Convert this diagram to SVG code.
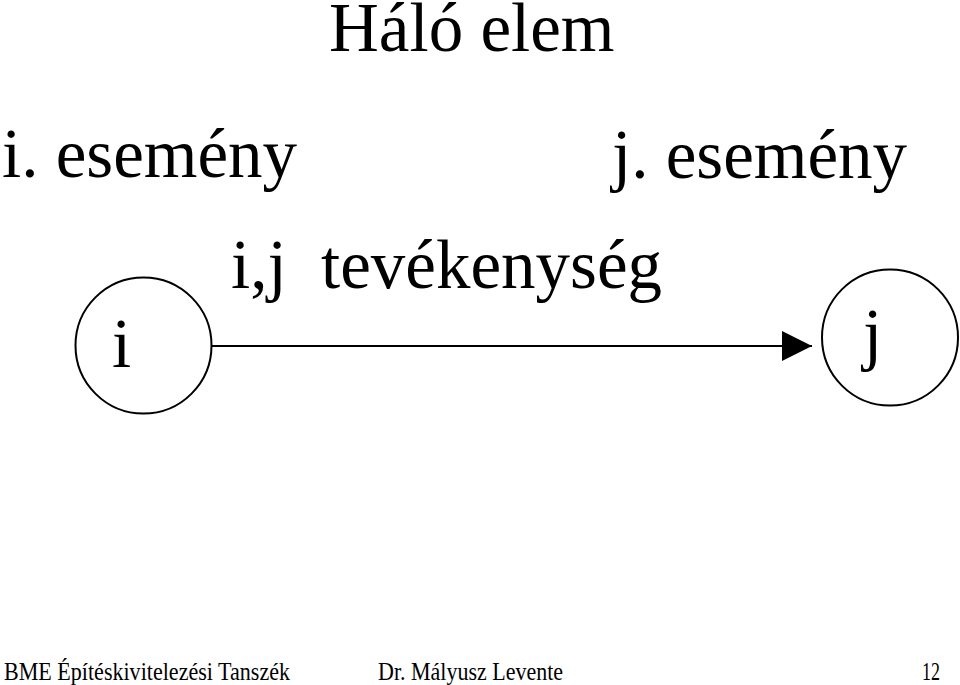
<svg xmlns="http://www.w3.org/2000/svg" width="960" height="685" viewBox="0 0 960 685">
<style>
text { font-family: "Liberation Serif", "Times New Roman", serif; fill: #000; }
.big { font-size: 69px; }
.title { font-size: 69px; }
.foot { font-size: 26px; }
.node circle { fill: #fff; stroke: #000; stroke-width: 2; }
.edge { stroke: #000; stroke-width: 2; fill: none; }
</style>
<defs>
<marker id="arrow" markerUnits="userSpaceOnUse" viewBox="0 0 30 30" markerWidth="30" markerHeight="30" refX="30" refY="15" orient="auto">
<path d="M0,0 L30,15 L0,30 Z" fill="#000"/>
</marker>
</defs>
<rect width="960" height="685" fill="#fff"/>
<text class="title" x="329" y="51">Háló elem</text>
<text class="big" x="2" y="177">i. esemény</text>
<text class="big" x="612" y="178">j. esemény</text>
<g id="connectors">
<line class="edge" x1="212" y1="346" x2="812" y2="346" marker-end="url(#arrow)"/>
<text class="big" x="231" y="288">i,j<tspan x="321">tevékenység</tspan></text>
</g>
<g id="node-i" class="node">
<circle cx="143.5" cy="345.5" r="68"/>
<text class="big" x="112" y="367">i</text>
</g>
<g id="node-j" class="node">
<circle cx="890" cy="337.5" r="68"/>
<text class="big" x="863" y="357">j</text>
</g>
<text class="foot" x="4" y="680" textLength="286" lengthAdjust="spacingAndGlyphs">BME Építéskivitelezési Tanszék</text>
<text class="foot" x="378" y="680" textLength="185" lengthAdjust="spacingAndGlyphs">Dr. Mályusz Levente</text>
<text class="foot" x="922" y="680" textLength="18" lengthAdjust="spacingAndGlyphs">12</text>
</svg>
